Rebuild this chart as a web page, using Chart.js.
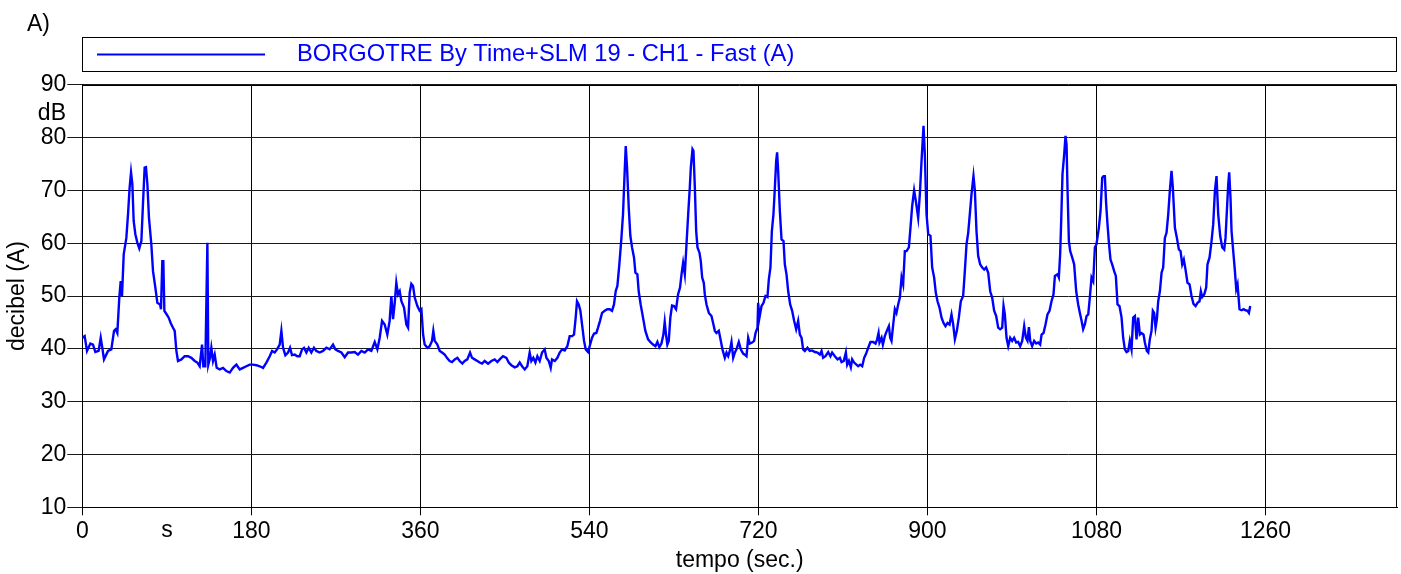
<!DOCTYPE html>
<html>
<head>
<meta charset="utf-8">
<script src="https://cdn.jsdelivr.net/npm/chart.js@4.4.1/dist/chart.umd.min.js"></script>
<style>
  html, body { margin: 0; padding: 0; background: #ffffff; }
  #wrap { width: 1401px; height: 574px; position: relative; }
</style>
</head>
<body>
<div id="wrap"><canvas id="c" width="1401" height="574"></canvas></div>
<script>
// ---- DATA (time in seconds, level in dB(A)) ----
const seriesLabel = 'BORGOTRE By Time+SLM 19 - CH1 - Fast (A)';
const xTickStep = 180;
const xMin = 0, xMax = 1400;
const yTickStep = 10;
const yMin = 10, yMax = 90;

const part1 = [[0,42.1],[2.5,42.4],[5,39.6],[8.6,41.0],[11.4,40.8],[13.9,39.4],[17.4,39.6],[19.6,42.1],[21.3,40.2],[23.1,38.0],[27.4,39.6],[30.9,39.9],[33.8,43.4],[35.5,43.7],[37.3,43.0],[39.4,49.7],[40.9,52.8],[42.3,50.0],[44.1,57.9],[46.9,61.0],[48.7,65.5],[50.4,70.5],[51.9,73.4],[53.3,71.2],[54.7,64.2],[56.5,61.7],[58.6,60.1],[60.7,59.0],[62.9,60.4],[64.6,67.4],[66.4,74.3],[67.8,74.4],[69.3,71.2],[71,64.8],[73.5,59.8],[75.3,54.7],[77.8,51.6],[79.9,48.7],[82.8,48.4],[83.8,47.5],[85.2,56.6],[86.3,56.6],[87.4,47.2],[89.9,46.5],[92,45.9],[94.1,44.9],[96.6,44.0],[98.4,43.4],[100.2,39.6],[101.9,37.7],[105.5,38.0],[109,38.6],[112.6,38.6],[116.1,38.3],[119.7,37.7],[122.5,37.4],[125,36.7],[127.5,40.8],[128.9,36.7],[131,36.7],[133.2,60.1],[134.2,37.0],[136,38.3],[137.4,40.2],[139.2,37.7],[141,38.9],[143.1,36.4],[146.3,36.1],[149.9,36.4],[153.4,35.8],[157,35.5],[160.5,36.4],[164.1,37.0],[167.6,36.1],[171.2,36.4],[174.7,36.7],[178.3,37.0],[181.8,37.0],[185.4,36.9],[188.9,36.7],[192.5,36.4],[196,37.4],[199.6,38.6],[202.1,39.6],[204.9,39.3],[207.4,39.9],[210.2,40.8],[212,43.4],[213.8,40.2]];

const part2 = [[216.2,38.8],[219.1,39.3],[221.2,40.2],[223.3,38.8],[226.2,38.9],[229,38.6],[231.5,38.6],[234,39.9],[236.1,40.2],[238.6,39.3],[241.1,40.2],[243.9,39.3],[246.7,40.2],[249.2,39.6],[252.8,39.3],[256.3,39.6],[259.9,40.2],[263.4,39.9],[267,40.8],[269.5,39.9],[272.3,39.6],[275.9,39.3],[279.4,38.4],[283,39.3],[286.5,39.3],[290.1,39.4],[293.6,38.9],[297.2,39.6],[300.7,39.3],[304.3,39.9],[307.8,39.6],[311.4,41.3],[314.2,39.9],[316.7,42.1],[319.2,45.3],[322,44.6],[324.8,42.7],[327.3,45.3],[329.1,50.0],[330.9,45.6],[332.7,48.7],[334.4,52.5],[336.2,50.3],[338,50.9],[339.8,49.0],[342.6,47.8],[345.1,44.6],[346.9,44.0],[348.6,50.6],[350.4,52.3],[352.2,51.9],[354,49.7],[356.8,48.1],[359.3,47.2],[361.1,47.5],[362.9,42.7],[364.6,40.8],[367.5,40.2],[369.9,40.5],[372.4,41.5],[373.8,43.4],[375.3,41.5],[378.1,40.8],[380.6,39.6],[383.1,39.3],[385.9,38.9],[388.7,38.2],[391.2,37.7],[393.7,37.5],[396.6,38.0],[399.4,38.3],[401.9,37.7],[404.7,37.2],[407.2,37.7],[410,38.0],[412.9,39.3],[415,38.3],[417.8,38.0],[420.7,37.7],[423.2,37.4],[425.7,37.2],[428.5,37.7]];

const part3 = [[432.1,37.2],[435.6,37.7],[439.2,38.0],[442,37.5],[444.5,38.0],[448,38.6],[451.6,38.3],[454.1,37.4],[456.9,36.9],[460.5,36.5],[463.3,36.7],[465.8,37.4],[468.3,36.7],[471.1,36.1],[473.9,36.7],[476.4,39.3],[478.2,37.7],[480.3,38.3],[482.5,37.4],[484.6,38.6],[487.1,37.7],[489.6,39.3],[492.4,39.9],[494.2,38.3],[496.7,37.7],[498.8,36.4],[500.2,38.0],[503.1,37.7],[505.9,38.3],[508.4,39.3],[510.9,39.9],[513.7,39.7],[516.5,40.5],[519,42.4],[521.5,42.4],[523.6,42.7],[525.4,45.9],[526.8,49.0],[528.6,48.4],[530.4,47.2],[532.2,44.6],[534.3,41.5],[536.1,39.9],[538.6,39.4],[540.3,40.5],[542.8,42.1],[545,42.9],[547.4,43.0],[549.2,44.0],[551.3,45.3],[553.5,46.8],[556.3,47.2],[559.1,47.5],[561.6,47.5],[564.1,47.2],[566.2,48.4],[568,50.9],[569.8,51.9],[571.9,56.0],[574.1,61.0],[575.8,65.5],[577.6,73.7],[578.7,78.4],[580.1,74.3],[581.9,66.7],[583.6,61.4],[585.4,59.2],[587.5,57.3],[589,54.4],[591.1,54.1],[592.5,50.9],[594.6,48.4],[597.1,45.9],[599.6,43.4],[602.5,41.8],[605.3,41.2],[607.8,40.8],[610.3,40.5],[612.4,41.3],[614.5,40.3],[616.7,41.0],[618.8,42.7],[620.2,45.1],[621.6,42.7],[623,40.8],[624.5,41.5],[626.2,45.9],[628,48.2],[630.1,48.1],[632.3,47.5],[634.4,50.3],[636.5,51.6]];

const part4 = [[638.1,54.1],[639.8,56.3],[641.6,54.1],[643.4,59.8],[645.2,65.5],[646.9,70.5],[648,74.3],[649.8,77.8],[650.8,77.5],[652.3,70.5],[653.7,62.3],[655.1,59.2],[657.2,58.2],[658.6,56.6],[660.1,53.5],[661.8,52.5],[662.9,50.3],[664.7,48.4],[667.2,46.8],[670,46.2],[672.1,44.6],[673.6,43.4],[675.3,43.0],[677.8,43.4],[679.6,41.8],[681.7,39.9],[684.2,38.3],[686,39.3],[687.8,38.6],[689.5,39.6],[691.3,41.3],[693.1,38.3],[694.9,39.3],[696.6,39.9],[699.1,41.3],[701.2,39.9],[703.7,39.1],[705.5,38.9],[707.3,38.6],[709.1,42.1],[710.8,41.0],[713.3,41.2],[715.4,41.5],[716.9,43.0],[719,44.0],[719.7,48.7],[721.1,45.9],[723.3,48.1],[725.4,48.7],[727.5,50.0],[729.6,49.8],[731.1,53.2],[732.8,55.4],[734.3,62.3],[736,65.5],[737.5,70.5],[738.9,75.6],[739.9,77.2],[741,73.7],[742.8,66.1],[744.6,60.7],[746.7,60.4],[748.1,56.0],[749.9,54.1],[751.7,50.9],[753.8,48.4],[755.9,47.2],[758,45.3],[760.2,43.7],[762.3,45.3],[764.1,42.7],[765.9,42.1],[767.6,39.9],[769.4,39.6],[772.2,40.2],[774.7,39.6],[777.2,39.7],[780.1,39.4],[782.9,39.3],[785.4,38.9],[787.2,39.6],[788.9,38.3],[791.4,38.6],[794.3,39.4],[796.7,38.6],[798.5,39.3],[801.4,38.6],[804.2,38.0],[806.7,38.3],[808.5,37.5],[810.9,37.7],[813.1,39.3],[814.5,37.0],[816.3,37.7],[818.4,36.5],[819.8,38.0],[821.9,37.4],[824.4,37.0],[826.2,36.7],[828.3,37.0],[830.5,36.7],[832.6,38.3],[834.7,39.1],[836.9,40.2],[839.3,41.3],[842.2,41.3],[844.7,41.0],[846.4,41.8],[847.9,43.0],[848.9,41.2],[851.1,42.1],[852.5,40.8],[854.6,42.4],[856.7,43.4]];

const part5 = [[858.9,44.3],[860.3,42.1],[861.7,41.5],[863.5,44.6],[865.3,47.5],[867,46.8],[868.8,48.4],[870.6,49.7],[872.4,53.5],[874.1,52.2],[875.9,58.5],[877.7,58.5],[880.2,59.2],[881.9,62.9],[883.7,67.0],[885.8,70.0],[887.6,68.0],[890.1,64.8],[891.9,69.3],[893.7,75.6],[895.8,82.2],[897.2,76.8],[899,65.5],[900.8,61.7],[903.2,61.4],[905,55.4],[907.1,53.5],[908.9,50.6],[910.7,49.0],[912.8,47.8],[915,45.9],[917.1,44.9],[919.2,44.3],[921.3,44.9],[923.5,44.6],[925.6,46.5],[927.4,44.6],[929.2,41.8],[931.3,43.4],[933.4,45.9],[935.5,49.0],[938,50.0],[939.8,54.7],[941.6,59.8],[943.4,62.0],[945.1,65.5],[946.9,69.3],[949,72.7],[950.5,69.9],[952.2,62.3],[954,57.6],[956.1,56.0],[958.3,55.4],[960.4,55.0],[962.5,55.4],[964.7,54.4],[966.8,50.9],[968.9,49.7],[971,47.2],[973.2,46.2],[975.3,44.0],[977.4,43.7],[979.6,44.0],[981,48.1],[982.4,46.5],[984.2,42.1],[986,40.5],[988.1,42.1],[990.2,41.5],[992.3,42.1],[994.5,41.2],[996.6,41.3],[998.7,40.5],[1000.9,41.5],[1003,44.3],[1004.8,42.1],[1006.5,41.5],[1008,44.1],[1009.4,41.5],[1011.5,40.5],[1013.6,41.5],[1015.8,41.0],[1017.9,41.2],[1020,40.8],[1021.5,42.7],[1023.6,43.0],[1025.7,44.6],[1027.8,46.5],[1030,47.2],[1032.1,49.0],[1034.2,50.3],[1035.7,53.8],[1038.5,54.1],[1039.9,53.5],[1041.3,57.9],[1042.4,64.2],[1043.8,73.1],[1045.6,76.8],[1047,80.3],[1048.1,78.7],[1049.1,70.5],[1050.6,60.4],[1052,58.5],[1054.1,57.3],[1056.2,56.0],[1058.4,50.9],[1060.5,48.4],[1062.3,46.8],[1064.1,45.3],[1065.8,43.7],[1067.6,44.6]];

const part6 = [[1069.4,46.2],[1071.2,46.5],[1072.9,49.7],[1074.7,53.5],[1076.5,52.8],[1078.3,59.2],[1080,59.8],[1082.5,62.9],[1084.3,66.1],[1086.1,72.4],[1087.5,72.7],[1088.9,72.7],[1090.3,67.4],[1091.7,63.6],[1093.2,60.1],[1094.9,56.9],[1096.7,56.0],[1098.8,54.7],[1100.6,53.8],[1102.4,48.4],[1104.5,48.1],[1106.7,45.9],[1108.4,42.1],[1110.2,39.9],[1112,39.4],[1113.8,39.6],[1115.5,41.5],[1117.3,39.9],[1119.1,45.9],[1120.9,46.2],[1122.6,41.8],[1124.4,45.9],[1126.2,42.7],[1128,43.0],[1130.1,42.7],[1131.5,41.2],[1133.6,39.6],[1135.1,39.3],[1136.8,41.8],[1138.6,43.4],[1140,47.2],[1141.4,46.8],[1142.9,44.0],[1144.3,45.6],[1145.7,49.0],[1147.5,50.9],[1149.3,54.4],[1151,55.4],[1152.8,61.0],[1154.6,62.0],[1156.4,65.5],[1158.1,69.9],[1159.9,73.7],[1161.3,70.5],[1163.5,62.9],[1165.6,61.0],[1167.7,58.8],[1169.5,58.5],[1171.3,56.0],[1173,56.9],[1174.8,55.0],[1176.9,52.5],[1179.1,52.2],[1181.2,50.0],[1183.3,48.5],[1185.5,48.1],[1187.6,48.7],[1189.7,49.0],[1191.1,50.9],[1192.6,49.8],[1194.7,50.3],[1196.8,51.6],[1198.2,56.0],[1200.4,57.3],[1202.5,60.4],[1204.3,63.6],[1206.1,69.9],[1207.8,72.7],[1209.6,65.5],[1211.7,61.4],[1213.9,59.2],[1216,58.8],[1217.4,61.0],[1219.2,67.4],[1220.3,71.2],[1221.3,73.4],[1222.7,68.6],[1223.8,62.3],[1225.6,58.5],[1227.4,54.7],[1228.8,51.3],[1230.2,52.2],[1232.3,47.5],[1234.5,47.3],[1236.6,47.5],[1238.7,47.3],[1240.8,47.2],[1242.3,46.8],[1243.7,48.1]];

// ---- BUILD ----
const samples = [].concat(part1, part2, part3, part4, part5, part6);
const points = samples.map(([t, v]) => ({ x: t, y: v }));

const FAMILY = '"Liberation Sans", Arial, Helvetica, sans-serif';
const FSIZE = 23;

const decorPlugin = {
  id: 'decor',
  afterDraw(chart) {
    const ctx = chart.ctx;
    const a = chart.chartArea;
    ctx.save();
    // outer frame of plot
    ctx.strokeStyle = '#000';
    ctx.lineWidth = 1;
    ctx.beginPath();
    ctx.moveTo(Math.round(a.left) + 0.5, Math.round(a.top) + 0.5);
    ctx.lineTo(Math.round(a.right) - 0.5, Math.round(a.top) + 0.5);
    ctx.lineTo(Math.round(a.right) - 0.5, Math.round(a.bottom) + 0.5);
    ctx.stroke();

    ctx.font = FSIZE + 'px ' + FAMILY;
    ctx.fillStyle = '#000';
    // panel label
    ctx.textAlign = 'left';
    ctx.textBaseline = 'alphabetic';
    ctx.fillText('A)', 27, 31);

    // legend box
    ctx.strokeStyle = '#000';
    ctx.lineWidth = 1;
    ctx.strokeRect(82.5, 37.5, 1314, 34);
    ctx.strokeStyle = '#0000ff';
    ctx.lineWidth = 2;
    ctx.beginPath();
    ctx.moveTo(97, 54.5);
    ctx.lineTo(265, 54.5);
    ctx.stroke();
    ctx.fillStyle = '#0000ff';
    ctx.textBaseline = 'middle';
    ctx.font = '23.7px ' + FAMILY;
    ctx.fillText(seriesLabel, 297, 54);

    // unit labels
    ctx.font = FSIZE + 'px ' + FAMILY;
    ctx.fillStyle = '#000';
    ctx.textAlign = 'right';
    ctx.textBaseline = 'alphabetic';
    ctx.fillText('dB', 66, 120);
    ctx.textAlign = 'center';
    ctx.fillText('s', 167, 537);

    // axis titles
    ctx.textBaseline = 'middle';
    ctx.fillText('tempo (sec.)', (a.left + a.right) / 2, 561);
    ctx.translate(18, (a.top + a.bottom) / 2);
    ctx.rotate(-Math.PI / 2);
    ctx.fillText('decibel (A)', 0, 0);
    ctx.restore();
  }
};

new Chart(document.getElementById('c'), {
  type: 'line',
  data: {
    datasets: [{
      label: seriesLabel,
      data: points,
      borderColor: '#0000ff',
      backgroundColor: '#0000ff',
      borderWidth: 2.4,
      pointRadius: 0,
      tension: 0,
      fill: false
    }]
  },
  options: {
    responsive: false,
    animation: false,
    devicePixelRatio: 1,
    layout: { padding: { top: 84.7, right: 4, left: 0, bottom: 0 } },
    plugins: { legend: { display: false }, tooltip: { enabled: false }, title: { display: false } },
    scales: {
      x: {
        type: 'linear',
        min: xMin,
        max: xMax,
        afterFit(s) { s.height = 66.7; },
        ticks: {
          stepSize: xTickStep,
          includeBounds: false,
          autoSkip: false,
          maxRotation: 0,
          color: '#000',
          padding: 3,
          font: { family: FAMILY, size: FSIZE },
          callback: (v) => String(v)
        },
        grid: { color: '#000', lineWidth: 1, tickLength: 8, drawTicks: true },
        border: { color: '#000', width: 1 }
      },
      y: {
        min: yMin,
        max: yMax,
        afterFit(s) { s.width = 82.3; },
        ticks: {
          stepSize: yTickStep,
          color: '#000',
          padding: 1,
          font: { family: FAMILY, size: FSIZE },
          callback: (v) => String(v)
        },
        grid: { color: '#1a1a1a', lineWidth: 1, tickLength: 15, drawTicks: true },
        border: { color: '#000', width: 1 }
      }
    }
  },
  plugins: [decorPlugin]
});
</script>
</body>
</html>
